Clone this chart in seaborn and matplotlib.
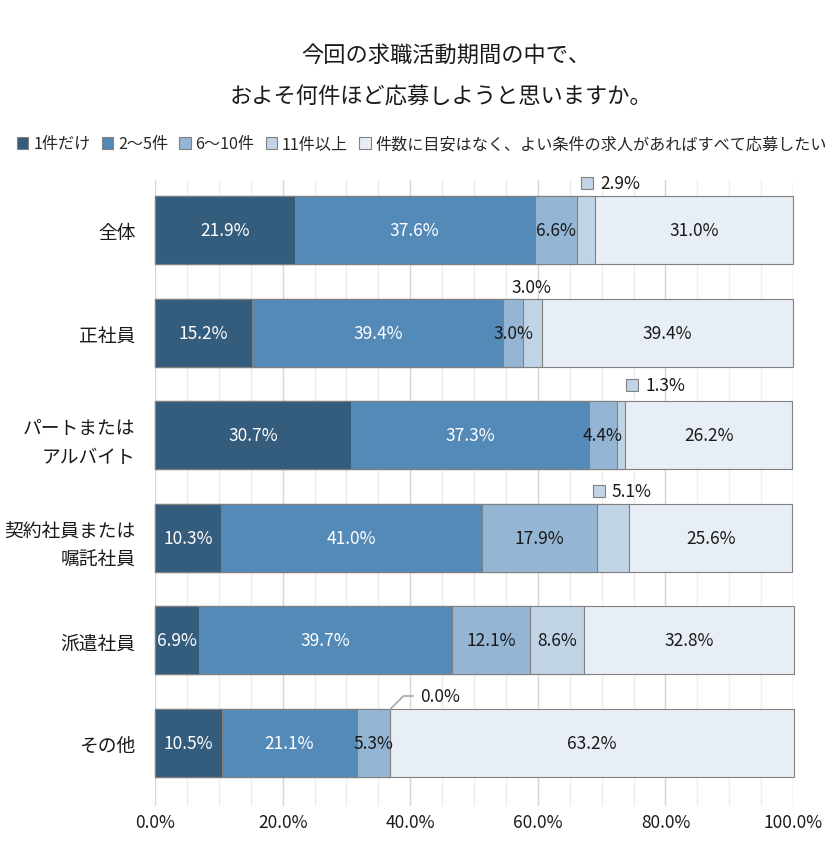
import numpy as np
import matplotlib
matplotlib.use("Agg")
import matplotlib.pyplot as plt
from matplotlib.patches import Patch
from matplotlib.transforms import offset_copy
from matplotlib.ticker import MultipleLocator, FuncFormatter
import seaborn as sns

title_lines = ["今回の求職活動期間の中で、", "およそ何件ほど応募しようと思いますか。"]
categories = ["全体", "正社員", "パートまたは\nアルバイト", "契約社員または\n嘱託社員", "派遣社員", "その他"]
series_names = ["1件だけ", "2〜5件", "6〜10件", "11件以上", "件数に目安はなく、よい条件の求人があればすべて応募したい"]

one_only = [21.9, 15.2, 30.7, 10.3, 6.9, 10.5]
two_to_five = [37.6, 39.4, 37.3, 41.0, 39.7, 21.1]
six_to_ten = [6.6, 3.0, 4.4, 17.9, 12.1, 5.3]
eleven_plus = [2.9, 3.0, 1.3, 5.1, 8.6, 0.0]
no_target = [31.0, 39.4, 26.2, 25.6, 32.8, 63.2]

colors = ["#345C7D", "#548AB7", "#94B5D3", "#C0D4E6", "#E8EEF5"]
label_colors = ["white", "white", "#1a1a1a", "#1a1a1a", "#1a1a1a"]
edge = "#808080"

# labels that sit above the bar: (row, series) -> (dx px, dy px, kind)
callouts = {
    (0, 3): (1, 13, "marker"),
    (1, 3): (-1, 12, "plain"),
    (2, 3): (11, 16, "marker"),
    (3, 3): (-14, 13, "marker"),
    (5, 3): (30, 13, "leader"),
}

sns.set_theme(style="white")
plt.rcParams["font.family"] = ["Noto Sans CJK JP", "DejaVu Sans"]

values = np.array([one_only, two_to_five, six_to_ten, eleven_plus, no_target])
cum = values.cumsum(axis=0)
bar_w = 0.663
lab_size = 12.5

fig = plt.figure(figsize=(8.34, 8.62), dpi=100)
ax = fig.add_axes([0.1859, 0.0638, 0.765, 0.7262])

for i in range(len(series_names) - 1, -1, -1):
    sns.barplot(x=cum[i], y=categories, orient="h", color=colors[i], saturation=1,
                width=bar_w, edgecolor=edge, linewidth=0.8, ax=ax)
for p in ax.patches:
    p.set_clip_on(False)

ax.set_xlim(0, 100)
ax.set_ylim(5.614, -0.487)
ax.xaxis.set_major_locator(MultipleLocator(20))
ax.xaxis.set_minor_locator(MultipleLocator(5))
ax.xaxis.set_major_formatter(FuncFormatter(lambda v, _: f"{v:.1f}%"))
ax.grid(axis="x", which="major", color="#D6D6D6", linewidth=1.0)
ax.grid(axis="x", which="minor", color="#EDEDED", linewidth=1.0)
ax.set_axisbelow(True)
for s in ax.spines.values():
    s.set_visible(False)
ax.tick_params(axis="x", which="both", length=0, pad=5, labelsize=12.5, labelcolor="#1a1a1a")
ax.tick_params(axis="y", length=0, pad=14, labelsize=13.5, labelcolor="#1a1a1a")
for t in ax.get_yticklabels():
    t.set_linespacing(1.55)
ax.set_xlabel("")
ax.set_ylabel("")

for i in range(len(series_names)):
    for r in range(len(categories)):
        v = values[i, r]
        center = cum[i, r] - v / 2
        label = f"{v:.1f}%"
        if (r, i) in callouts:
            dx, dy, kind = callouts[(r, i)]
            top = r - bar_w / 2
            if kind == "marker":
                tr = offset_copy(ax.transData, fig=fig, x=dx, y=dy, units="dots")
                ax.plot([center], [top], marker="s", ms=8.5, mfc=colors[i], mec=edge,
                        mew=0.8, transform=tr, clip_on=False)
                tr2 = offset_copy(ax.transData, fig=fig, x=dx + 13, y=dy, units="dots")
                ax.text(center, top, label, transform=tr2, ha="left", va="center",
                        fontsize=lab_size, color="#1a1a1a")
            elif kind == "plain":
                tr = offset_copy(ax.transData, fig=fig, x=dx, y=dy, units="dots")
                ax.text(center, top, label, transform=tr, ha="center", va="center",
                        fontsize=lab_size, color="#1a1a1a")
            else:
                ax.annotate(label, xy=(cum[i, r], top), xytext=(dx * 0.72, dy * 0.72),
                            textcoords="offset points", ha="left", va="center",
                            fontsize=lab_size, color="#1a1a1a",
                            arrowprops=dict(arrowstyle="-", color="#A6A6A6", lw=1.2,
                                            shrinkA=3, shrinkB=0,
                                            connectionstyle="angle,angleA=0,angleB=45,rad=0"))
        else:
            ax.text(center, r, label, ha="center", va="center", fontsize=lab_size,
                    color=label_colors[i])

handles = [Patch(facecolor=c, edgecolor=edge, linewidth=0.8) for c in colors]
fig.legend(handles, series_names, loc="center", bbox_to_anchor=(0.506, 1 - 145 / 862),
           ncol=5, frameon=False, fontsize=11.6, handlelength=0.7, handleheight=0.7,
           handletextpad=0.3, columnspacing=0.7, labelcolor="#262626")

fig.text(0.535, 1 - 55 / 862, title_lines[0], ha="center", va="center", fontsize=16, color="#1a1a1a")
fig.text(0.529, 1 - 97 / 862, title_lines[1], ha="center", va="center", fontsize=16, color="#1a1a1a")

fig.savefig("out.png", dpi=100)
